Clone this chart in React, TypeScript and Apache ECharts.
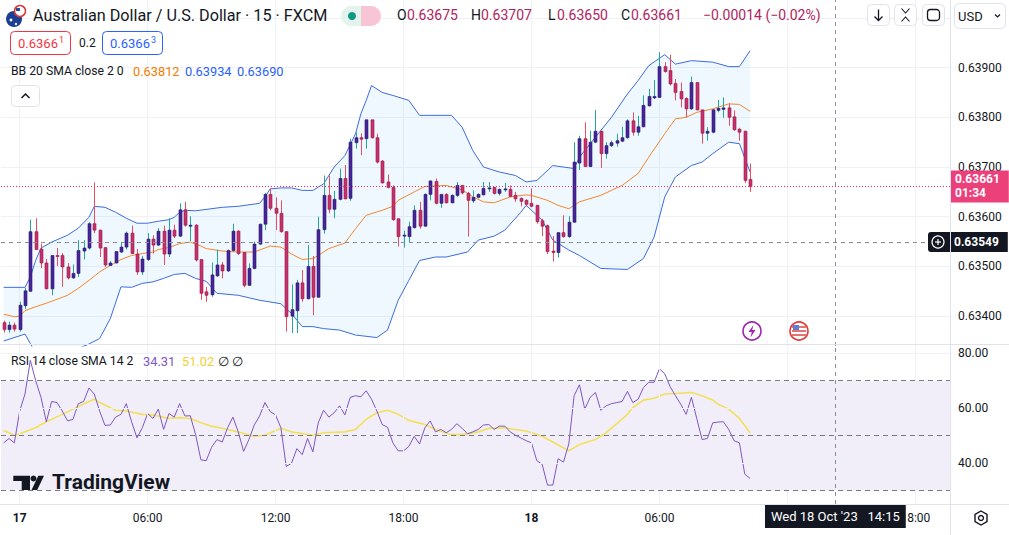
import { useEffect, useRef } from 'react'
import * as echarts from 'echarts'

// AUD/USD 15 min, 16 Oct 23:15 -> 18 Oct 10:15 : [open, high, low, close]
const candles = [
  [0.63387, 0.63391, 0.63367, 0.63373], [0.63373, 0.63389, 0.63367, 0.63382], [0.63382, 0.63387, 0.63369, 0.63374],
  [0.63373, 0.63429, 0.63369, 0.63422], [0.63421, 0.63457, 0.63414, 0.63451], [0.6345, 0.63594, 0.6345, 0.6357],
  [0.6357, 0.63597, 0.63534, 0.63534], [0.63535, 0.63546, 0.63497, 0.63507], [0.63507, 0.63515, 0.63454, 0.63455],
  [0.63455, 0.63522, 0.63442, 0.63522], [0.63522, 0.63537, 0.63501, 0.63521], [0.63522, 0.63527, 0.63459, 0.63499],
  [0.63499, 0.63507, 0.63474, 0.63477], [0.63477, 0.63504, 0.63475, 0.63486], [0.63486, 0.63553, 0.63479, 0.63532],
  [0.63531, 0.63553, 0.63514, 0.63537], [0.63537, 0.63589, 0.63534, 0.63586], [0.63586, 0.63669, 0.63567, 0.63573],
  [0.63573, 0.63574, 0.63519, 0.63537], [0.63538, 0.63538, 0.63499, 0.63503], [0.63502, 0.63511, 0.63501, 0.63507],
  [0.63507, 0.6353, 0.63506, 0.6353], [0.63529, 0.63547, 0.63527, 0.63539], [0.63539, 0.6357, 0.63534, 0.63567],
  [0.63567, 0.63582, 0.63525, 0.63526], [0.63525, 0.63535, 0.63483, 0.63489], [0.63489, 0.63521, 0.63483, 0.63515],
  [0.63514, 0.63567, 0.63511, 0.63555], [0.63555, 0.63563, 0.63526, 0.63543], [0.63543, 0.63577, 0.63541, 0.63571],
  [0.63571, 0.63582, 0.63503, 0.63525], [0.63525, 0.63597, 0.63519, 0.63573], [0.63573, 0.63584, 0.63557, 0.63561],
  [0.63561, 0.63627, 0.63559, 0.63614], [0.63614, 0.6363, 0.6358, 0.63583], [0.63581, 0.63601, 0.63551, 0.63583],
  [0.63583, 0.63585, 0.6351, 0.63513], [0.63514, 0.63514, 0.63433, 0.63446], [0.63449, 0.63459, 0.63429, 0.63442],
  [0.63443, 0.63508, 0.63439, 0.63483], [0.63481, 0.63534, 0.63479, 0.63503], [0.63503, 0.63509, 0.63476, 0.63491],
  [0.63491, 0.63534, 0.63489, 0.63532], [0.63532, 0.63586, 0.6353, 0.63571], [0.63571, 0.63573, 0.63523, 0.63526],
  [0.63528, 0.63529, 0.63458, 0.63462], [0.63462, 0.63506, 0.63461, 0.63496], [0.63496, 0.6355, 0.63494, 0.63545],
  [0.63545, 0.63586, 0.63543, 0.63585], [0.63585, 0.63648, 0.63573, 0.63645], [0.63645, 0.63657, 0.63613, 0.63617],
  [0.63617, 0.63639, 0.63573, 0.63607], [0.63607, 0.63633, 0.63568, 0.6357], [0.6357, 0.63571, 0.63369, 0.63399],
  [0.634, 0.63464, 0.63366, 0.63413], [0.63411, 0.63473, 0.63366, 0.63467], [0.63467, 0.63493, 0.63429, 0.63435],
  [0.63435, 0.63543, 0.63434, 0.635], [0.635, 0.63521, 0.63402, 0.63438], [0.63438, 0.636, 0.63438, 0.63574],
  [0.63574, 0.63683, 0.63566, 0.63643], [0.63643, 0.63683, 0.63607, 0.63615], [0.63615, 0.63652, 0.63597, 0.63635],
  [0.63635, 0.63697, 0.63633, 0.63677], [0.63677, 0.63704, 0.63635, 0.63636], [0.63637, 0.63757, 0.63632, 0.6375],
  [0.63749, 0.6377, 0.63737, 0.63759], [0.63759, 0.63768, 0.63724, 0.63756], [0.63757, 0.63795, 0.63737, 0.63795],
  [0.63795, 0.63795, 0.63757, 0.63759], [0.63759, 0.63767, 0.63707, 0.6371], [0.63712, 0.63714, 0.63667, 0.63668],
  [0.6367, 0.63685, 0.63657, 0.63659], [0.63659, 0.63663, 0.63592, 0.63594], [0.63596, 0.63596, 0.6354, 0.6356],
  [0.63561, 0.63572, 0.63538, 0.63563], [0.6356, 0.6359, 0.63548, 0.6358], [0.63578, 0.63623, 0.63576, 0.63613],
  [0.63613, 0.6363, 0.63576, 0.63581], [0.63581, 0.63647, 0.6358, 0.63645], [0.63645, 0.63673, 0.63633, 0.63672],
  [0.63671, 0.63677, 0.63625, 0.63627], [0.63627, 0.63645, 0.63618, 0.63645], [0.63645, 0.63647, 0.63627, 0.63628],
  [0.63628, 0.63645, 0.63627, 0.63643], [0.63643, 0.6367, 0.6364, 0.63663], [0.63663, 0.63663, 0.63645, 0.63648],
  [0.63647, 0.6365, 0.6356, 0.63633], [0.63632, 0.63653, 0.63628, 0.63639], [0.63639, 0.63647, 0.63637, 0.63645],
  [0.63644, 0.6367, 0.63643, 0.63657], [0.63657, 0.6367, 0.6365, 0.63658], [0.63659, 0.6366, 0.63645, 0.63647],
  [0.63647, 0.63657, 0.63643, 0.63655], [0.63655, 0.63668, 0.6365, 0.63656], [0.63655, 0.63663, 0.63639, 0.63641],
  [0.63643, 0.6365, 0.6363, 0.63636], [0.63637, 0.63639, 0.63621, 0.63631], [0.63633, 0.63635, 0.63621, 0.63625],
  [0.63627, 0.63657, 0.63619, 0.63621], [0.63623, 0.63624, 0.63586, 0.6359], [0.63592, 0.63596, 0.63561, 0.63581],
  [0.63582, 0.63584, 0.63525, 0.6353], [0.63531, 0.63561, 0.6351, 0.63528], [0.63528, 0.63569, 0.63518, 0.63568],
  [0.63568, 0.63603, 0.63558, 0.6356], [0.6356, 0.63601, 0.63558, 0.63589], [0.63589, 0.6375, 0.63588, 0.6371],
  [0.63708, 0.63763, 0.63694, 0.63757], [0.63757, 0.6379, 0.637, 0.63701], [0.63701, 0.63773, 0.637, 0.6375],
  [0.6375, 0.63815, 0.63748, 0.63772], [0.63772, 0.63773, 0.63698, 0.63727], [0.63727, 0.6375, 0.63717, 0.63743],
  [0.63743, 0.63753, 0.6374, 0.63749], [0.63748, 0.63767, 0.63741, 0.63753], [0.63752, 0.63781, 0.6375, 0.63759],
  [0.63759, 0.63796, 0.63757, 0.63793], [0.63793, 0.6381, 0.63763, 0.6377], [0.6377, 0.63803, 0.63763, 0.63781],
  [0.63781, 0.63844, 0.6378, 0.63824], [0.63823, 0.63857, 0.63822, 0.63842], [0.63839, 0.63875, 0.63837, 0.63842],
  [0.6384, 0.63931, 0.63839, 0.63902], [0.63902, 0.63911, 0.6389, 0.63892], [0.63894, 0.63926, 0.63864, 0.63867],
  [0.63868, 0.63877, 0.63834, 0.6385], [0.63852, 0.6387, 0.6382, 0.63837], [0.63838, 0.6384, 0.638, 0.63817],
  [0.63817, 0.63882, 0.63815, 0.6387], [0.6387, 0.6387, 0.63814, 0.63815], [0.63815, 0.63815, 0.63747, 0.63768],
  [0.63768, 0.6378, 0.63753, 0.63772], [0.6377, 0.63817, 0.63768, 0.63815], [0.63814, 0.63835, 0.6381, 0.63818],
  [0.63816, 0.6384, 0.63799, 0.63819], [0.63819, 0.63828, 0.63783, 0.638], [0.63801, 0.63814, 0.63773, 0.63775],
  [0.63776, 0.63779, 0.63753, 0.6377], [0.63772, 0.63773, 0.63668, 0.63673], [0.63675, 0.63707, 0.6365, 0.63661],
]

// Bollinger bands: [candle index, price]
const bbUpper = [
  [0, 0.63458], [4, 0.63458], [5, 0.63479], [6, 0.63512], [7, 0.63537], [9, 0.63549], [12, 0.63563], [14, 0.63577],
  [16, 0.63599], [17, 0.63621], [19, 0.63619], [21, 0.63609], [23, 0.63597], [25, 0.63587], [27, 0.63587], [29, 0.63591],
  [31, 0.63594], [32, 0.63599], [33, 0.63609], [34, 0.63613], [36, 0.63612], [41, 0.63619], [44, 0.63621], [48, 0.63627],
  [49, 0.6364], [50, 0.63656], [52, 0.63658], [54, 0.63658], [56, 0.63653], [58, 0.63653], [60, 0.63666], [62, 0.637],
  [64, 0.63723], [66, 0.63767], [67, 0.63807], [68, 0.63834], [69, 0.63864], [71, 0.6385], [73, 0.63844], [76, 0.63834],
  [78, 0.63804], [84, 0.63804], [86, 0.6378], [88, 0.63733], [90, 0.637], [93, 0.6369], [96, 0.63683], [98, 0.6367],
  [100, 0.63673], [103, 0.63703], [105, 0.637], [107, 0.63697], [108, 0.6372], [111, 0.6376], [114, 0.638], [117, 0.63847],
  [119, 0.63874], [121, 0.63904], [124, 0.63926], [126, 0.63907], [129, 0.63914], [133, 0.63911], [136, 0.63902],
  [138, 0.63902], [140, 0.63934],
]
const bbBasis = [
  [0, 0.63404], [2, 0.63399], [3, 0.634], [4, 0.63411], [6, 0.63419], [8, 0.63426], [10, 0.63434], [12, 0.63442],
  [14, 0.63456], [16, 0.63472], [18, 0.63489], [20, 0.63502], [22, 0.63514], [24, 0.63522], [26, 0.63526], [28, 0.63529],
  [29, 0.63534], [31, 0.63538], [33, 0.63546], [35, 0.63549], [37, 0.63541], [38, 0.63536], [41, 0.63531], [44, 0.63529],
  [47, 0.63529], [50, 0.63541], [52, 0.63539], [54, 0.63525], [56, 0.63514], [58, 0.63516], [59, 0.63522], [61, 0.63536],
  [64, 0.63547], [66, 0.63576], [68, 0.63603], [71, 0.63613], [73, 0.63621], [74, 0.63633], [77, 0.6365], [79, 0.63661],
  [83, 0.63663], [86, 0.63654], [88, 0.6364], [90, 0.6363], [92, 0.63628], [95, 0.6364], [98, 0.63644], [99, 0.63643],
  [102, 0.63633], [104, 0.63623], [106, 0.63616], [108, 0.6363], [112, 0.63643], [116, 0.63663], [119, 0.63687],
  [121, 0.6372], [124, 0.63767], [126, 0.63797], [128, 0.638], [130, 0.6381], [133, 0.63817], [136, 0.63827],
  [138, 0.63826], [140, 0.63812],
]
const bbLower = [
  [0, 0.6335], [4, 0.63364], [5, 0.63345], [7, 0.63307], [9, 0.63311], [12, 0.63321], [14, 0.63335], [16, 0.63344],
  [18, 0.63355], [20, 0.63395], [22, 0.63459], [24, 0.63458], [26, 0.63466], [28, 0.63469], [30, 0.63476], [32, 0.63484],
  [34, 0.63486], [36, 0.63476], [38, 0.6347], [40, 0.63446], [44, 0.63442], [48, 0.63432], [52, 0.63425], [54, 0.63405],
  [56, 0.63379], [58, 0.63379], [60, 0.63375], [63, 0.63372], [66, 0.63362], [70, 0.63357], [72, 0.63372], [74, 0.63432],
  [76, 0.63472], [78, 0.63512], [81, 0.63519], [83, 0.63519], [87, 0.63529], [89, 0.63553], [92, 0.63561], [94, 0.63573],
  [97, 0.63609], [98, 0.63623], [101, 0.63593], [103, 0.63553], [106, 0.63533], [108, 0.63522], [112, 0.63496],
  [117, 0.63494], [120, 0.63516], [122, 0.63559], [124, 0.6364], [126, 0.6368], [129, 0.63703], [131, 0.6371],
  [133, 0.63727], [136, 0.6375], [138, 0.63747], [140, 0.6369],
]

// RSI 14, one value per candle
const rsi = [
  47.3, 48.9, 47.3, 58.9, 65.1, 77.4, 70.0, 63.9, 55.0, 62.4,
  62.0, 58.9, 55.3, 55.9, 61.6, 62.4, 67.3, 65.1, 58.9, 53.7,
  53.8, 56.7, 57.7, 61.6, 55.0, 49.1, 52.8, 58.0, 56.2, 59.6,
  52.2, 58.0, 56.7, 61.6, 57.1, 57.2, 50.3, 41.1, 40.8, 45.7,
  48.5, 47.6, 52.8, 56.7, 51.3, 44.2, 48.5, 53.8, 57.1, 62.0,
  58.7, 57.5, 52.8, 38.7, 39.9, 45.2, 43.0, 48.9, 44.0, 54.6,
  59.2, 56.7, 58.3, 60.8, 57.5, 63.9, 64.5, 64.1, 66.3, 63.2,
  58.9, 54.0, 53.0, 47.3, 44.4, 44.4, 46.0, 49.7, 46.9, 52.8,
  55.3, 51.3, 52.2, 51.0, 52.2, 54.3, 52.6, 50.6, 51.3, 52.2,
  53.8, 54.0, 52.2, 53.4, 53.4, 51.3, 50.1, 49.1, 48.1, 47.3,
  40.8, 39.5, 31.9, 31.9, 41.5, 40.3, 46.9, 64.5, 68.5, 59.6,
  63.9, 65.7, 59.2, 60.8, 61.6, 62.0, 62.4, 66.1, 62.0, 63.2,
  67.5, 69.4, 69.4, 74.3, 72.5, 67.8, 64.5, 61.4, 57.7, 63.9,
  56.2, 48.5, 48.9, 54.6, 54.9, 55.0, 52.2, 48.1, 47.3, 35.9,
  34.31,
]
// RSI-based SMA 14: [candle index, value]
const rsiMa = [
  [0, 51.8], [2, 50.1], [3, 50.6], [6, 52.8], [8, 55.0], [11, 57.7], [13, 59.6], [16, 62.4], [17, 63.2], [18, 62.0],
  [21, 59.2], [23, 58.9], [26, 57.7], [28, 57.5], [31, 56.2], [33, 56.5], [35, 56.2], [37, 54.6], [39, 53.4], [42, 52.2],
  [44, 51.3], [47, 49.7], [49, 50.1], [52, 52.6], [54, 51.3], [58, 50.1], [60, 51.0], [64, 51.3], [66, 52.2], [68, 55.9],
  [70, 58.3], [72, 59.2], [74, 57.7], [76, 55.5], [79, 54.0], [81, 52.2], [84, 50.3], [86, 50.3], [89, 51.3], [91, 52.6],
  [94, 52.8], [96, 52.2], [98, 51.6], [101, 49.7], [103, 47.6], [106, 44.4], [108, 46.7], [111, 48.5], [113, 51.0],
  [115, 54.3], [117, 57.7], [118, 60.2], [120, 62.9], [122, 63.6], [124, 65.1], [126, 65.3], [129, 65.7], [131, 64.5],
  [133, 62.9], [134, 61.4], [136, 59.6], [138, 56.2], [140, 51.02],
]

const slotCount = 178
// the 12:00 label of the 18th sits under the crosshair time box
const timeTickIdx = [3, 27, 51, 75, 99, 123, 171]
const timeTickLabels = ['17', '06:00', '12:00', '18:00', '18', '06:00', '18:00']
const gridTickIdx = [3, 27, 51, 75, 99, 123, 147, 171]
const dayTicks = ['17', '18']
const priceGrid = [0.634, 0.635, 0.636, 0.637, 0.638, 0.639, 0.64]
const rsiGrid = [40, 60, 80]
const rsiLevels = [70, 50, 30]
const lastPrice = 0.63661
const crossPrice = 0.63549
const crossIdx = 156

const FONT = 'Roboto, "Noto Sans", sans-serif'
const INK = '#131722'
const slots = Array.from({ length: slotCount }, (_, i) => String(i))

const txt = (x: number, y: number, text: string, fill: string, size = 13, weight = 'normal', align = 'left') => ({
  type: 'text',
  x,
  y,
  z: 100,
  style: {
    text,
    fill,
    font: `${weight} ${size}px ${FONT}`,
    textAlign: align,
    textVerticalAlign: 'middle',
    align,
    verticalAlign: 'middle',
  },
})

const hline = (x1: number, x2: number, y: number, color = '#e0e3eb') => ({
  type: 'line',
  z: 90,
  shape: { x1, y1: y, x2, y2: y },
  style: { stroke: color, lineWidth: 1 },
})

const renderCandle = (_params: any, api: any) => {
  const i = api.value(0)
  const o = api.value(1)
  const h = api.value(2)
  const l = api.value(3)
  const c = api.value(4)
  const pO = api.coord([i, o])
  const pC = api.coord([i, c])
  const pH = api.coord([i, h])
  const pL = api.coord([i, l])
  const w = Math.max(2, Math.round(api.size([1, 0])[0] * 0.62))
  const up = c >= o
  const cx = Math.round(pO[0]) + 0.5
  const top = Math.min(pO[1], pC[1])
  const bh = Math.max(Math.abs(pO[1] - pC[1]), 1)
  return {
    type: 'group',
    children: [
      {
        type: 'line',
        shape: { x1: cx, y1: pH[1], x2: cx, y2: pL[1] },
        style: { stroke: up ? '#26a69a' : '#ec4d5c', lineWidth: 1 },
      },
      {
        type: 'rect',
        shape: { x: cx - w / 2, y: top, width: w, height: bh },
        style: {
          fill: up ? '#47259a' : '#cc2f6b',
          stroke: up ? '#2e1470' : '#8e1c4b',
          lineWidth: 0.6,
        },
      },
    ],
  }
}

const renderBand = (_params: any, api: any) => {
  const pts = [
    ...bbUpper.map((p) => api.coord(p)),
    ...bbLower.slice().reverse().map((p) => api.coord(p)),
  ]
  return { type: 'polygon', shape: { points: pts }, style: { fill: 'rgba(33,150,243,0.07)' } }
}

const buildGraphic = () => {
  const g: any[] = [
    // pane borders
    hline(0, 1009, 344.5),
    hline(0, 1009, 504.5),
    { type: 'line', z: 90, shape: { x1: 950.5, y1: 0, x2: 950.5, y2: 535 }, style: { stroke: '#e0e3eb', lineWidth: 1 } },
    // symbol flags
    { type: 'circle', z: 100, shape: { cx: 14, cy: 19, r: 8 }, style: { fill: '#1c3f94' } },
    { type: 'circle', z: 100, shape: { cx: 11, cy: 20, r: 1.4 }, style: { fill: '#fff' } },
    { type: 'circle', z: 100, shape: { cx: 16, cy: 24, r: 1.2 }, style: { fill: '#fff' } },
    { type: 'circle', z: 101, shape: { cx: 20, cy: 11, r: 5.5 }, style: { fill: '#fff', stroke: '#d93a3a', lineWidth: 1.5 } },
    { type: 'rect', z: 102, shape: { x: 16, y: 8, width: 4, height: 3 }, style: { fill: '#2b4aa0' } },
    txt(33, 15, 'Australian Dollar / U.S. Dollar · 15 · FXCM', INK, 16.2),
    // market status pill
    { type: 'rect', z: 100, shape: { x: 341, y: 6, width: 40, height: 20, r: 10 }, style: { fill: '#e3f4ef' } },
    { type: 'rect', z: 101, shape: { x: 361, y: 6, width: 20, height: 20, r: [0, 10, 10, 0] }, style: { fill: '#f8c5d6' } },
    { type: 'circle', z: 102, shape: { cx: 352, cy: 16, r: 4 }, style: { fill: '#089981' } },
    txt(371, 15, '≈', '#e91e63', 15, 'bold', 'center'),
    // OHLC
    txt(397, 15, 'O', INK, 14), txt(407, 15, '0.63675', '#b1245c', 14),
    txt(471, 15, 'H', INK, 14), txt(481, 15, '0.63707', '#b1245c', 14),
    txt(548, 15, 'L', INK, 14), txt(557, 15, '0.63650', '#b1245c', 14),
    txt(621, 15, 'C', INK, 14), txt(631, 15, '0.63661', '#b1245c', 14),
    txt(703, 15, '−0.00014 (−0.02%)', '#b1245c', 14),
    // sell / spread / buy
    { type: 'rect', z: 100, shape: { x: 10.5, y: 31.5, width: 60, height: 23, r: 4 }, style: { fill: '#fff', stroke: '#f23645', lineWidth: 1 } },
    txt(18, 43, '0.6366', '#f23645', 13), txt(59, 40, '1', '#f23645', 9),
    txt(79, 43, '0.2', INK, 12),
    { type: 'rect', z: 100, shape: { x: 102.5, y: 31.5, width: 60, height: 23, r: 4 }, style: { fill: '#fff', stroke: '#2962ff', lineWidth: 1 } },
    txt(110, 43, '0.6366', '#2962ff', 13), txt(151, 40, '3', '#2962ff', 9),
    // BB legend
    txt(11, 71, 'BB 20 SMA close 2 0', INK, 12.2),
    txt(133, 71, '0.63812', '#f57c00', 12.8),
    txt(185, 71, '0.63934', '#2962ff', 12.8),
    txt(237, 71, '0.63690', '#2962ff', 12.8),
    { type: 'rect', z: 100, shape: { x: 11.5, y: 85.5, width: 28, height: 21, r: 4 }, style: { fill: '#fff', stroke: '#e0e3eb', lineWidth: 1 } },
    { type: 'polyline', z: 101, shape: { points: [[21.5, 98], [25.5, 94], [29.5, 98]] }, style: { stroke: INK, lineWidth: 1.5, fill: null } },
    // RSI legend
    txt(11, 361, 'RSI 14 close SMA 14 2', INK, 12.2),
    txt(143, 361, '34.31', '#7e57c2', 12.8),
    txt(182, 361, '51.02', '#eed03a', 12.8),
    txt(218, 361, '∅', INK, 13),
    txt(232, 361, '∅', INK, 13),
    // TradingView logo
    { type: 'polygon', z: 100, shape: { points: [[13.3, 475.7], [30, 475.7], [30, 490], [21.7, 490], [21.7, 481], [13.3, 481]] }, style: { fill: INK } },
    { type: 'circle', z: 100, shape: { cx: 33.5, cy: 478.5, r: 3 }, style: { fill: INK } },
    { type: 'polygon', z: 100, shape: { points: [[31.5, 490], [37.2, 490], [44, 475.7], [38.3, 475.7]] }, style: { fill: INK } },
    txt(52, 482, 'TradingView', INK, 21, 'bold'),
    // event icons
    { type: 'circle', z: 100, shape: { cx: 752, cy: 331, r: 9 }, style: { fill: '#fff', stroke: '#9c27b0', lineWidth: 1.6 } },
    { type: 'polygon', z: 101, shape: { points: [[753.5, 325], [748.5, 332], [751.8, 332], [750.5, 337.5], [755.5, 330], [752.2, 330]] }, style: { fill: '#9c27b0' } },
    { type: 'circle', z: 100, shape: { cx: 799, cy: 331, r: 9 }, style: { fill: '#fff', stroke: '#e53935', lineWidth: 1.6 } },
    { type: 'rect', z: 101, shape: { x: 792, y: 326, width: 14, height: 2 }, style: { fill: '#e57373' } },
    { type: 'rect', z: 101, shape: { x: 792, y: 330, width: 14, height: 2 }, style: { fill: '#e57373' } },
    { type: 'rect', z: 101, shape: { x: 792, y: 334, width: 14, height: 2 }, style: { fill: '#e57373' } },
    { type: 'rect', z: 102, shape: { x: 793, y: 325, width: 6, height: 5 }, style: { fill: '#5c7fd6' } },
    // toolbar buttons
    { type: 'rect', z: 100, shape: { x: 867.5, y: 4.5, width: 22, height: 21, r: 4 }, style: { fill: '#fff', stroke: '#e0e3eb', lineWidth: 1 } },
    { type: 'line', z: 101, shape: { x1: 878.5, y1: 9.5, x2: 878.5, y2: 20 }, style: { stroke: INK, lineWidth: 1.3 } },
    { type: 'polyline', z: 101, shape: { points: [[874.5, 16.5], [878.5, 20.5], [882.5, 16.5]] }, style: { stroke: INK, lineWidth: 1.3, fill: null } },
    { type: 'rect', z: 100, shape: { x: 894.5, y: 4.5, width: 22, height: 21, r: 4 }, style: { fill: '#fff', stroke: '#e0e3eb', lineWidth: 1 } },
    { type: 'polyline', z: 101, shape: { points: [[901.5, 8.5], [905.5, 13], [909.5, 8.5]] }, style: { stroke: INK, lineWidth: 1.1, fill: null } },
    { type: 'polyline', z: 101, shape: { points: [[901.5, 21.5], [905.5, 17], [909.5, 21.5]] }, style: { stroke: INK, lineWidth: 1.1, fill: null } },
    { type: 'rect', z: 100, shape: { x: 922.5, y: 4.5, width: 22, height: 21, r: 4 }, style: { fill: '#fff', stroke: '#e0e3eb', lineWidth: 1 } },
    { type: 'rect', z: 101, shape: { x: 927.5, y: 9.5, width: 12, height: 11, r: 3 }, style: { fill: null, stroke: INK, lineWidth: 1.3 } },
    { type: 'rect', z: 100, shape: { x: 954.5, y: 3.5, width: 51, height: 25, r: 5 }, style: { fill: '#fff', stroke: '#e0e3eb', lineWidth: 1 } },
    txt(958, 16, 'USD', INK, 13),
    { type: 'polyline', z: 101, shape: { points: [[995, 14.5], [997.5, 17], [1000, 14.5]] }, style: { stroke: INK, lineWidth: 1.2, fill: null } },
    // crosshair "+" button
    { type: 'rect', z: 100, shape: { x: 928, y: 232, width: 20, height: 20, r: [3, 0, 0, 3] }, style: { fill: '#131722' } },
    { type: 'circle', z: 101, shape: { cx: 938, cy: 242, r: 6 }, style: { fill: null, stroke: '#fff', lineWidth: 1.2 } },
    { type: 'line', z: 101, shape: { x1: 935, y1: 242, x2: 941, y2: 242 }, style: { stroke: '#fff', lineWidth: 1.2 } },
    { type: 'line', z: 101, shape: { x1: 938, y1: 239, x2: 938, y2: 245 }, style: { stroke: '#fff', lineWidth: 1.2 } },
    // settings gear
    {
      type: 'polygon',
      z: 100,
      shape: { points: [[981, 511], [987, 514.5], [987, 521.5], [981, 525], [975, 521.5], [975, 514.5]] },
      style: { fill: null, stroke: INK, lineWidth: 1.4 },
    },
    { type: 'circle', z: 100, shape: { cx: 981, cy: 518, r: 2.5 }, style: { fill: null, stroke: INK, lineWidth: 1.4 } },
  ]
  return g
}

const App = () => {
  const main = useRef<HTMLDivElement>(null)
  useEffect(() => {
    const chart = echarts.init(main.current, null, { renderer: 'svg' })
    const gridLine = { color: '#eef1f7', width: 1, type: 'solid' }
    const crossLine = { color: '#8a8e99', width: 1, type: [4, 4] }
    const option = {
      animation: false,
      backgroundColor: '#ffffff',
      textStyle: { fontFamily: FONT },
      grid: [
        { left: 1, right: 59, top: 0, height: 346 },
        { left: 1, right: 59, top: 345, height: 159 },
      ],
      xAxis: [
        {
          type: 'category',
          gridIndex: 0,
          data: slots,
          boundaryGap: true,
          axisLine: { show: false },
          axisTick: { show: false },
          axisLabel: { show: false },
          splitLine: { show: false },
        },
        {
          type: 'category',
          gridIndex: 1,
          data: slots,
          boundaryGap: true,
          axisLine: { show: false },
          axisTick: { show: false },
          splitLine: { show: false },
          axisLabel: {
            margin: 8,
            color: INK,
            fontSize: 12,
            fontFamily: FONT,
            interval: (index: number) => timeTickIdx.includes(index),
            formatter: (_v: string, index: number) => {
              const k = timeTickIdx.indexOf(index)
              if (k < 0) return ''
              const lab = timeTickLabels[k]
              return dayTicks.includes(lab) ? `{d|${lab}}` : lab
            },
            rich: { d: { fontWeight: 'bold', fontSize: 12, color: INK, fontFamily: FONT } },
          },
        },
      ],
      yAxis: [
        {
          type: 'value',
          gridIndex: 0,
          position: 'right',
          min: 0.6334,
          max: 0.64036,
          interval: 0.0002,
          axisLine: { show: false },
          axisTick: { show: false },
          splitLine: { show: false },
          axisLabel: {
            margin: 8,
            color: INK,
            fontSize: 12,
            fontFamily: FONT,
            formatter: (v: number) => {
              const k = Math.round(v * 10000)
              return k % 10 === 0 && k <= 6390 && k >= 6340 ? v.toFixed(5) : ''
            },
          },
        },
        {
          type: 'value',
          gridIndex: 1,
          position: 'right',
          min: 25,
          max: 83,
          interval: 5,
          axisLine: { show: false },
          axisTick: { show: false },
          splitLine: { show: false },
          axisLabel: {
            margin: 8,
            color: INK,
            fontSize: 12,
            fontFamily: FONT,
            formatter: (v: number) => (rsiGrid.includes(Math.round(v)) ? v.toFixed(2) : ''),
          },
        },
      ],
      series: [
        {
          type: 'custom',
          name: 'BB fill',
          xAxisIndex: 0,
          yAxisIndex: 0,
          data: [[0, bbBasis[0][1]]],
          renderItem: renderBand,
          clip: true,
          silent: true,
          z: 1,
          markLine: {
            silent: true,
            symbol: 'none',
            precision: 5,
            z: 1,
            label: { show: false },
            lineStyle: gridLine,
            data: [
              ...priceGrid.map((v) => ({ yAxis: v })),
              ...gridTickIdx.map((i) => ({ xAxis: String(i) })),
            ],
          },
        },
        {
          type: 'line',
          name: 'BB upper',
          data: bbUpper,
          showSymbol: false,
          lineStyle: { color: '#3d6be0', width: 1 },
          z: 2,
          silent: true,
        },
        {
          type: 'line',
          name: 'BB lower',
          data: bbLower,
          showSymbol: false,
          lineStyle: { color: '#3d6be0', width: 1 },
          z: 2,
          silent: true,
        },
        {
          type: 'custom',
          name: 'AUDUSD',
          data: candles.map((c, i) => [i, ...c]),
          encode: { x: 0, y: [1, 2, 3, 4] },
          renderItem: renderCandle,
          clip: true,
          z: 3,
        },
        {
          type: 'line',
          name: 'BB basis',
          data: bbBasis,
          showSymbol: false,
          lineStyle: { color: '#f7862a', width: 1 },
          z: 2,
          silent: true,
          markLine: {
            silent: true,
            symbol: 'none',
            precision: 5,
            data: [
              {
                yAxis: lastPrice,
                lineStyle: { color: '#e0316b', width: 1, type: [1, 2] },
                label: {
                  show: true,
                  position: 'end',
                  distance: 0,
                  formatter: `${lastPrice.toFixed(5)}\n01:34`,
                  backgroundColor: '#ec407a',
                  color: '#ffffff',
                  fontSize: 12,
                  fontWeight: 'bold',
                  lineHeight: 14,
                  padding: [2, 9, 2, 5],
                  fontFamily: FONT,
                },
              },
              {
                yAxis: crossPrice,
                lineStyle: crossLine,
                label: {
                  show: true,
                  position: 'end',
                  distance: -2,
                  formatter: crossPrice.toFixed(5),
                  backgroundColor: '#131722',
                  color: '#ffffff',
                  fontSize: 12,
                  fontWeight: 'bold',
                  padding: [4, 9, 4, 6],
                  fontFamily: FONT,
                },
              },
              { xAxis: String(crossIdx), lineStyle: crossLine, label: { show: false } },
            ],
          },
        },
        {
          type: 'line',
          name: 'RSI',
          xAxisIndex: 1,
          yAxisIndex: 1,
          data: rsi,
          showSymbol: false,
          lineStyle: { color: '#7e57c2', width: 1 },
          z: 3,
          silent: true,
          markArea: {
            silent: true,
            itemStyle: { color: 'rgba(126,87,194,0.1)' },
            data: [[{ yAxis: 30 }, { yAxis: 70 }]],
          },
          markLine: {
            silent: true,
            symbol: 'none',
            label: { show: false },
            data: [
              ...rsiGrid.map((v) => ({ yAxis: v, lineStyle: gridLine })),
              ...gridTickIdx.map((i) => ({ xAxis: String(i), lineStyle: gridLine })),
              ...rsiLevels.map((v) => ({ yAxis: v, lineStyle: { color: '#787b86', width: 1, type: [5, 4] } })),
              {
                xAxis: String(crossIdx),
                lineStyle: crossLine,
                label: {
                  show: true,
                  position: 'start',
                  distance: 1,
                  formatter: "Wed 18 Oct '23   14:15",
                  backgroundColor: '#131722',
                  color: '#ffffff',
                  fontSize: 13,
                  padding: [5, 6, 5, 6],
                  fontFamily: FONT,
                },
              },
            ],
          },
        },
        {
          type: 'line',
          name: 'RSI MA',
          xAxisIndex: 1,
          yAxisIndex: 1,
          data: rsiMa,
          showSymbol: false,
          lineStyle: { color: '#f2e05c', width: 1.6 },
          z: 2,
          silent: true,
        },
      ],
      graphic: buildGraphic(),
    }
    chart.setOption(option as any)
    return () => {
      chart.dispose()
    }
  }, [])
  return (
    <div
      ref={main}
      style={{ position: 'absolute', left: 0, top: 0, width: '1009px', height: '535px' }}
    ></div>
  )
}

export default App
